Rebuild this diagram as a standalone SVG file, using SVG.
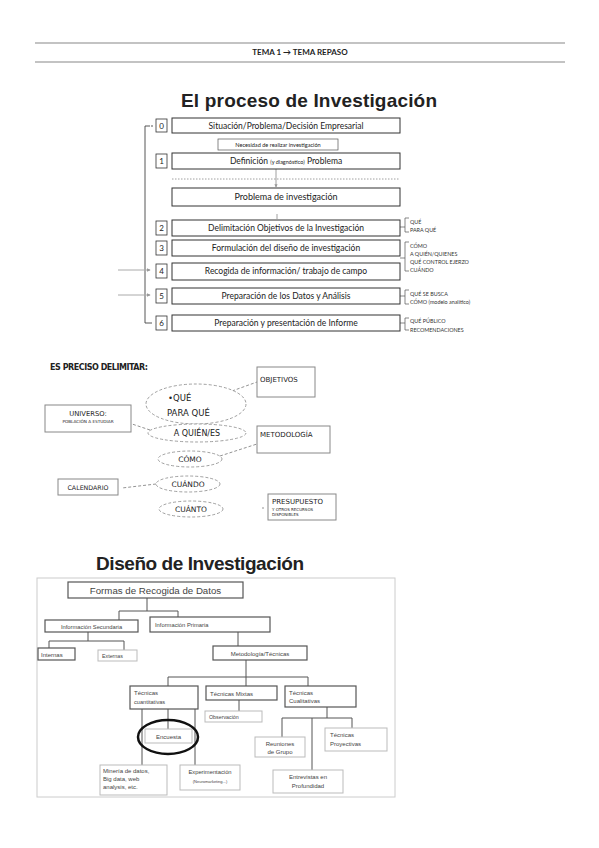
<svg xmlns="http://www.w3.org/2000/svg" width="599" height="848" viewBox="0 0 599 848">
<defs>
<marker id="ah" viewBox="0 0 6 6" refX="5" refY="3" markerWidth="4" markerHeight="4" orient="auto"><path d="M0,0 L6,3 L0,6 z" fill="#999"/></marker>
<marker id="ahd" viewBox="0 0 6 6" refX="5" refY="3" markerWidth="4" markerHeight="4" orient="auto"><path d="M0,0 L6,3 L0,6 z" fill="#555"/></marker>
</defs>
<style>
.cal{font-family:Lato,"Liberation Sans",sans-serif;fill:#222}
.bx{fill:#fff;stroke:#333;stroke-width:1}
.sq{fill:#fff;stroke:#333;stroke-width:0.8}
.ln{fill:none;stroke:#444;stroke-width:0.9}
.gr{fill:none;stroke:#aaa;stroke-width:1}
.brk{fill:none;stroke:#555;stroke-width:0.7}
.ann{font-family:Lato,"Liberation Sans",sans-serif;font-size:5.4px;fill:#333}
.ver{font-family:"DejaVu Sans",Verdana,sans-serif;fill:#222}
.dash{fill:none;stroke:#777;stroke-width:0.8;stroke-dasharray:3,2}
.ell{fill:#fff;stroke:#888;stroke-width:0.8;stroke-dasharray:3,2}
.gbx{fill:#fff;stroke:#888;stroke-width:1}
.ar{font-family:"Liberation Sans",Arial,sans-serif;fill:#444}
.b3{fill:#fff;stroke:#555;stroke-width:1.2}
.b3l{fill:#fff;stroke:#bbb;stroke-width:1}
.l3{fill:none;stroke:#555;stroke-width:1}
</style>
<rect width="599" height="848" fill="#fff"/>

<!-- header -->
<g id="header">
<line x1="35" y1="43" x2="565" y2="43" stroke="#888" stroke-width="1.2"/>
<line x1="35" y1="62" x2="565" y2="62" stroke="#888" stroke-width="1.2"/>
<text x="300" y="55" class="cal" font-size="8" font-weight="bold" text-anchor="middle">TEMA 1 → TEMA REPASO</text>
</g>

<text x="309" y="107" font-family="Liberation Sans,Arial,sans-serif" font-size="19" font-weight="bold" fill="#222" text-anchor="middle" textLength="256">El proceso de Investigación</text>

<!-- process connectors -->
<g id="process-connectors">
<path class="ln" d="M150,126 H145 V323 H152"/>
<line class="ln" x1="151" y1="126" x2="153" y2="126"/>
<line x1="172" y1="179" x2="400" y2="179" stroke="#888" stroke-width="0.8" stroke-dasharray="1.5,1.5"/>
<line x1="276" y1="169" x2="276" y2="187" stroke="#888" stroke-width="0.8" marker-end="url(#ah)"/>
<line x1="277" y1="214" x2="277" y2="219" stroke="#888" stroke-width="0.8"/>
<line class="gr" x1="118" y1="270" x2="150" y2="270" marker-end="url(#ah)"/>
<line class="gr" x1="118" y1="295" x2="150" y2="295" marker-end="url(#ah)"/>
<path class="brk" d="M409,218 H405 V232 H409 M400,227 H405"/>
<path class="brk" d="M409,242 H405 V271 H409 M400,258 H405"/>
<path class="brk" d="M409,290 H405 V304 H409 M400,296 H405"/>
<path class="brk" d="M409,318 H405 V330 H409 M400,323 H405"/>
</g>

<g id="step0">
<rect class="sq" x="156" y="119" width="11" height="13"/>
<text class="cal" x="161.5" y="129" font-size="8" text-anchor="middle">0</text>
<rect class="bx" x="172" y="118" width="228" height="15"/>
<text class="cal" x="286" y="129" font-size="8.5" text-anchor="middle">Situación/Problema/Decisión Empresarial</text>
</g>
<g id="necesidad">
<rect x="218" y="139" width="120" height="11" fill="#fff" stroke="#555" stroke-width="0.7"/>
<text class="cal" x="278" y="147" font-size="5.6" text-anchor="middle">Necesidad de realizar investigación</text>
</g>
<g id="step1">
<rect class="sq" x="156" y="154" width="11" height="14"/>
<text class="cal" x="161.5" y="164" font-size="8" text-anchor="middle">1</text>
<rect class="bx" x="172" y="153" width="228" height="16"/>
<text class="cal" x="286" y="164" font-size="8.5" text-anchor="middle">Definición <tspan font-size="5.5">(y diagnóstico)</tspan> Problema</text>
</g>
<g id="problema">
<rect class="bx" x="172" y="188" width="228" height="18"/>
<text class="cal" x="286" y="200" font-size="9" text-anchor="middle">Problema de investigación</text>
</g>
<g id="step2">
<rect class="sq" x="156" y="221" width="11" height="14"/>
<text class="cal" x="161.5" y="231" font-size="8" text-anchor="middle">2</text>
<rect class="bx" x="172" y="220" width="228" height="16"/>
<text class="cal" x="286" y="231" font-size="8.5" text-anchor="middle">Delimitación Objetivos de la Investigación</text>
</g>
<g id="step3">
<rect class="sq" x="156" y="241" width="11" height="14"/>
<text class="cal" x="161.5" y="251" font-size="8" text-anchor="middle">3</text>
<rect class="bx" x="172" y="240" width="228" height="16"/>
<text class="cal" x="286" y="251" font-size="8.5" text-anchor="middle">Formulación del diseño de investigación</text>
</g>
<g id="step4">
<rect class="sq" x="156" y="264" width="11" height="14"/>
<text class="cal" x="161.5" y="274" font-size="8" text-anchor="middle">4</text>
<rect class="bx" x="172" y="263" width="228" height="17"/>
<text class="cal" x="286" y="274" font-size="8.5" text-anchor="middle">Recogida de información/ trabajo de campo</text>
</g>
<g id="step5">
<rect class="sq" x="156" y="289" width="11" height="14"/>
<text class="cal" x="161.5" y="299" font-size="8" text-anchor="middle">5</text>
<rect class="bx" x="172" y="288" width="228" height="16"/>
<text class="cal" x="286" y="299" font-size="8.5" text-anchor="middle">Preparación de los Datos y Análisis</text>
</g>
<g id="step6">
<rect class="sq" x="156" y="316" width="11" height="14"/>
<text class="cal" x="161.5" y="326" font-size="8" text-anchor="middle">6</text>
<rect class="bx" x="172" y="315" width="228" height="16"/>
<text class="cal" x="286" y="326" font-size="8.5" text-anchor="middle">Preparación y presentación de Informe</text>
</g>
<g id="annotations">
<text class="ann" x="410" y="224">QUÉ</text>
<text class="ann" x="410" y="232">PARA QUÉ</text>
<text class="ann" x="410" y="248">CÓMO</text>
<text class="ann" x="410" y="256">A QUIÉN/QUIENES</text>
<text class="ann" x="410" y="264">QUÉ CONTROL EJERZO</text>
<text class="ann" x="410" y="272">CUÁNDO</text>
<text class="ann" x="410" y="296">QUÉ SE BUSCA</text>
<text class="ann" x="410" y="304">CÓMO (modelo analítico)</text>
<text class="ann" x="410" y="323">QUÉ PÚBLICO</text>
<text class="ann" x="410" y="332">RECOMENDACIONES</text>
</g>

<!-- section 2 -->
<text class="ver" x="50" y="370" font-size="8" font-weight="bold" textLength="98">ES PRECISO DELIMITAR:</text>
<g id="delimit-connectors">
<line class="dash" x1="232" y1="391" x2="257" y2="382"/>
<line class="dash" x1="150" y1="430" x2="132" y2="424"/>
<line class="dash" x1="220" y1="456" x2="257" y2="444"/>
<line class="dash" x1="156" y1="484" x2="122" y2="488"/>
<line class="dash" x1="262" y1="508" x2="264" y2="508"/>
</g>
<g id="objetivos">
<rect class="gbx" x="257" y="367" width="58" height="30"/>
<text class="ver" x="260" y="382" font-size="7">OBJETIVOS</text>
</g>
<g id="que">
<ellipse class="ell" cx="196" cy="404" rx="50" ry="20"/>
<text class="ver" x="168" y="401" font-size="8.5">•QUÉ</text>
<text class="ver" x="167" y="416" font-size="8.5">PARA QUÉ</text>
</g>
<g id="universo">
<rect class="gbx" x="45" y="405" width="86" height="27"/>
<text class="ver" x="88" y="416" font-size="6.8" text-anchor="middle">UNIVERSO:</text>
<text class="ver" x="88" y="423" font-size="4.2" text-anchor="middle">POBLACIÓN A ESTUDIAR</text>
</g>
<g id="aquien">
<ellipse class="ell" cx="197" cy="433" rx="49" ry="9"/>
<text class="ver" x="197" y="436" font-size="8" text-anchor="middle">A QUIÉN/ES</text>
</g>
<g id="metodologia">
<rect class="gbx" x="257" y="426" width="73" height="27"/>
<text class="ver" x="260" y="437" font-size="7">METODOLOGÍA</text>
</g>
<g id="como">
<ellipse class="ell" cx="190" cy="459" rx="32" ry="8"/>
<text class="ver" x="190" y="462" font-size="7.5" text-anchor="middle">CÓMO</text>
</g>
<g id="calendario">
<rect class="gbx" x="58" y="479" width="60" height="16"/>
<text class="ver" x="88" y="490" font-size="6.3" text-anchor="middle">CALENDARIO</text>
</g>
<g id="cuando">
<ellipse class="ell" cx="188" cy="484" rx="32" ry="8"/>
<text class="ver" x="188" y="487" font-size="7.5" text-anchor="middle">CUÁNDO</text>
</g>
<g id="cuanto">
<ellipse class="ell" cx="191" cy="509" rx="32" ry="8"/>
<text class="ver" x="191" y="512" font-size="7.5" text-anchor="middle">CUÁNTO</text>
</g>
<g id="presupuesto">
<rect class="gbx" x="268" y="494" width="68" height="26"/>
<text class="ver" x="272" y="504" font-size="7">PRESUPUESTO</text>
<text class="ver" x="272" y="511" font-size="4">Y OTROS RECURSOS</text>
<text class="ver" x="272" y="516" font-size="4">DISPONIBLES</text>
</g>

<!-- section 3 -->
<text x="200" y="570" font-family="Liberation Sans,Arial,sans-serif" font-size="19" font-weight="bold" fill="#222" text-anchor="middle" textLength="208">Diseño de Investigación</text>
<rect x="37" y="578" width="358" height="219" fill="none" stroke="#ccc" stroke-width="1"/>
<g id="design-connectors">
<path class="l3" d="M147,598 V611 M119,620 V611 H178 V617"/>
<path class="l3" d="M88,632 V641 M49,648 V641 H124 V650"/>
<path class="l3" d="M238,632 V646"/>
<path class="l3" d="M246,660 V677 M168,686 V677 H308 V686 M246,677 V686"/>
<path class="l3" d="M239,700 V711"/>
<path class="l3" d="M142,709 V765 M168,709 V729 M195,709 V765"/>
<path class="l3" d="M327,707 V718 M282,737 V718 H352 V728 M312,718 V770"/>
</g>
<g id="formas">
<rect class="b3" x="68" y="582" width="175" height="16"/>
<text class="ar" x="155.5" y="594" font-size="9.7" text-anchor="middle">Formas de Recogida de Datos</text>
</g>
<g id="secundaria">
<rect class="b3" x="45" y="620" width="93" height="12"/>
<text class="ar" x="91.5" y="629" font-size="5.8" text-anchor="middle">Información Secundaria</text>
</g>
<g id="primaria">
<rect class="b3" x="150" y="617" width="120" height="15"/>
<text class="ar" x="155" y="627" font-size="5.8">Información Primaria</text>
</g>
<g id="internas">
<rect class="b3" x="38" y="648" width="37" height="12"/>
<text class="ar" x="41" y="657" font-size="6">Internas</text>
</g>
<g id="externas">
<rect class="b3l" x="98" y="650" width="39" height="11"/>
<text class="ar" x="102" y="658" font-size="5.3">Externas</text>
</g>
<g id="metodologia-tecnicas">
<rect class="b3" x="213" y="646" width="94" height="14"/>
<text class="ar" x="260" y="656" font-size="6" text-anchor="middle">Metodología/Técnicas</text>
</g>
<g id="cuantitativas">
<rect class="b3" x="130" y="686" width="68" height="23"/>
<text class="ar" x="134" y="695" font-size="6">Técnicas</text>
<text class="ar" x="134" y="704" font-size="5.6">cuantitativas</text>
</g>
<g id="mixtas">
<rect class="b3" x="206" y="686" width="71" height="14"/>
<text class="ar" x="210" y="696" font-size="6">Técnicas Mixtas</text>
</g>
<g id="cualitativas">
<rect class="b3" x="285" y="686" width="71" height="21"/>
<text class="ar" x="289" y="695" font-size="6">Técnicas</text>
<text class="ar" x="289" y="703" font-size="6">Cualitativas</text>
</g>
<g id="observacion">
<rect class="b3l" x="205" y="711" width="57" height="11"/>
<text class="ar" x="209" y="719" font-size="5.3">Observación</text>
</g>
<g id="encuesta">
<rect class="b3l" x="145" y="729" width="47" height="14"/>
<text class="ar" x="168.5" y="739" font-size="6" text-anchor="middle">Encuesta</text>
<ellipse cx="168" cy="737" rx="30" ry="17" fill="none" stroke="#111" stroke-width="2.5"/>
</g>
<g id="mineria">
<rect class="b3l" x="100" y="765" width="67" height="30"/>
<text class="ar" x="103" y="773" font-size="6">Minería de datos,</text>
<text class="ar" x="103" y="781" font-size="6">Big data, web</text>
<text class="ar" x="103" y="789" font-size="6">analysis, etc.</text>
</g>
<g id="experimentacion">
<rect class="b3l" x="180" y="765" width="60" height="25"/>
<text class="ar" x="210" y="774" font-size="5.8" text-anchor="middle">Experimentación</text>
<text class="ar" x="210" y="783" font-size="4" text-anchor="middle">(Neuromarketing...)</text>
</g>
<g id="reuniones">
<rect class="b3l" x="255" y="737" width="50" height="20"/>
<text class="ar" x="280" y="746" font-size="6" text-anchor="middle">Reuniones</text>
<text class="ar" x="280" y="754" font-size="6" text-anchor="middle">de Grupo</text>
</g>
<g id="proyectivas">
<rect class="b3l" x="325" y="728" width="62" height="23"/>
<text class="ar" x="330" y="737" font-size="6">Técnicas</text>
<text class="ar" x="330" y="746" font-size="6">Proyectivas</text>
</g>
<g id="entrevistas">
<rect class="b3l" x="273" y="770" width="70" height="23"/>
<text class="ar" x="308" y="779" font-size="6" text-anchor="middle">Entrevistas en</text>
<text class="ar" x="308" y="788" font-size="6" text-anchor="middle">Profundidad</text>
</g>
</svg>
